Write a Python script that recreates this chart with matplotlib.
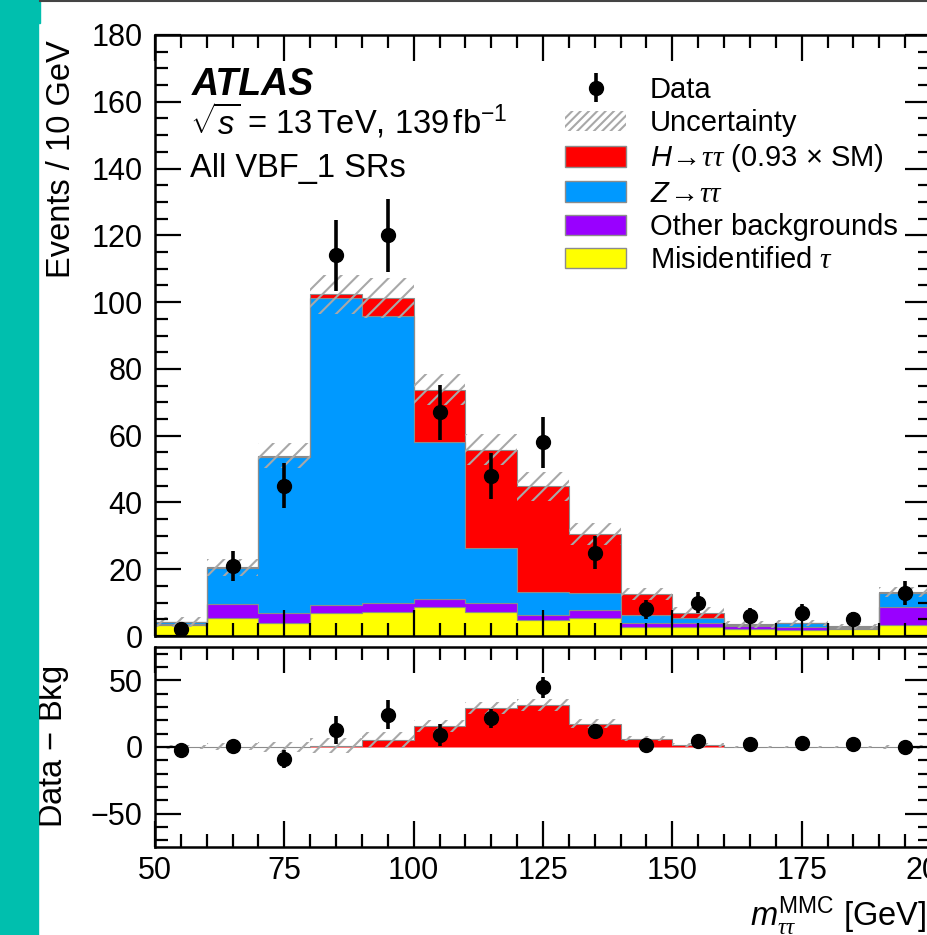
import numpy as np
import matplotlib.pyplot as plt
from matplotlib.patches import Patch, Rectangle
from matplotlib.lines import Line2D
from matplotlib.ticker import MultipleLocator

plt.rcParams.update({
    'font.family': 'Liberation Sans',
    'mathtext.fontset': 'custom',
    'mathtext.rm': 'Liberation Sans',
    'mathtext.it': 'Liberation Sans:italic',
    'mathtext.bf': 'Liberation Sans:bold',
    'mathtext.sf': 'Liberation Serif:italic',
    'hatch.linewidth': 1.5,
})

# m_tautau (MMC) binning, 10 GeV bins
bin_edges = [50, 60, 70, 80, 90, 100, 110, 120, 130, 140, 150, 160, 170, 180, 190, 200]
bin_centers = [55, 65, 75, 85, 95, 105, 115, 125, 135, 145, 155, 165, 175, 185, 195]

data = [2, 21, 45, 114, 120, 67, 48, 58, 25, 8, 10, 6, 7, 5, 13]
data_err = [1.4, 4.6, 6.7, 10.7, 11.0, 8.2, 6.9, 7.6, 5.0, 2.8, 3.2, 2.4, 2.6, 2.2, 3.6]

# stacked predictions, bottom to top
fake_tau = [3.3, 5.5, 4.0, 6.8, 7.3, 8.6, 7.3, 4.8, 5.3, 2.8, 2.8, 2.0, 1.8, 2.1, 3.3]
other_bkg = [0.2, 4.0, 2.8, 2.5, 2.7, 2.6, 2.7, 1.5, 2.5, 1.0, 1.2, 1.0, 1.0, 0.4, 5.5]
z_tautau = [0.7, 10.8, 46.9, 92.0, 85.8, 46.8, 16.5, 7.0, 5.1, 2.5, 1.5, 0.4, 1.0, 0.3, 4.0]
h_tautau = [0.0, 0.3, 0.3, 1.0, 5.5, 15.8, 29.3, 31.5, 17.6, 6.3, 1.5, 0.1, 0.1, 0.1, 0.3]
uncert = [1.5, 2.5, 3.7, 5.8, 6.0, 4.7, 4.7, 4.3, 3.2, 1.7, 1.7, 1.0, 1.0, 0.8, 1.5]

c_fake = '#ffff00'
c_other = '#9900ff'
c_z = '#0099ff'
c_h = '#ff0000'
c_edge = '#8c8c8c'
c_hatch = '#a8a8a8'

TAU = r'\mathsf{\tau}'

fig = plt.figure(figsize=(9.28, 9.35), dpi=100)
W, H = 928, 935
ax = fig.add_axes([155 / W, 1 - 636 / H, 776 / W, 601 / H])
rax = fig.add_axes([155 / W, 1 - 847 / H, 776 / W, 200 / H])

# side strip and top rule
fig.patches.append(Rectangle((0, 0), 38 / W, 1, transform=fig.transFigure,
                             color='#00bfae', zorder=0))
fig.patches.append(Rectangle((0, 1 - 23 / H), 40 / W, 23 / H, transform=fig.transFigure,
                             color='#00bfae', zorder=0))
fig.lines.append(Line2D([40 / W, 1], [1 - 1 / H, 1 - 1 / H], transform=fig.transFigure,
                        color='#444444', lw=1.5))

# ---- main panel: stacked histograms
bottom = np.zeros(len(data))
for vals, col in [(fake_tau, c_fake), (other_bkg, c_other), (z_tautau, c_z), (h_tautau, c_h)]:
    top = bottom + np.array(vals)
    ax.stairs(top, bin_edges, baseline=bottom, fill=True, facecolor=col,
              edgecolor=c_edge, linewidth=0.8)
    bottom = top
total = bottom
ax.stairs(total + np.array(uncert), bin_edges, baseline=total - np.array(uncert), fill=True,
          facecolor='none', edgecolor=c_hatch, hatch='//', linewidth=0)
ax.errorbar(bin_centers, data, yerr=data_err, fmt='o', color='k', markersize=10,
            elinewidth=2.6, capsize=0, zorder=5)

ax.set_xlim(50, 200)
ax.set_ylim(0, 180)
ax.yaxis.set_major_locator(MultipleLocator(20))
ax.yaxis.set_minor_locator(MultipleLocator(5))
ax.set_ylabel('Events / 10 GeV', fontsize=23.5, loc='top')
ax.yaxis.set_label_coords(-0.101, 0.992)

# ---- lower panel: data minus background
bkg = np.array(fake_tau) + np.array(other_bkg) + np.array(z_tautau)
sig = np.array(h_tautau)
rax.stairs(sig, bin_edges, baseline=0, fill=True, facecolor=c_h, edgecolor=c_edge, linewidth=0.8)
rax.stairs(sig + np.array(uncert), bin_edges, baseline=sig - np.array(uncert), fill=True,
           facecolor='none', edgecolor=c_hatch, hatch='//', linewidth=0)
rax.errorbar(bin_centers, np.array(data) - bkg, yerr=data_err, fmt='o', color='k',
             markersize=10, elinewidth=2.6, capsize=0, zorder=5)
rax.set_xlim(50, 200)
rax.set_ylim(-75, 75)
rax.yaxis.set_major_locator(MultipleLocator(50))
rax.yaxis.set_minor_locator(MultipleLocator(10))
rax.set_ylabel('Data $-$ Bkg', fontsize=23.5)
rax.yaxis.set_label_coords(-0.108, 0.5)
rax.set_xlabel(r'$m_{%s%s}^{\mathrm{MMC}}$ [GeV]' % (TAU, TAU), fontsize=23.5, loc='right')
rax.xaxis.set_label_coords(0.994, -0.235)

for a in (ax, rax):
    a.set_axisbelow(False)
    a.xaxis.set_major_locator(MultipleLocator(25))
    a.xaxis.set_minor_locator(MultipleLocator(5))
    a.tick_params(which='both', direction='in', top=True, right=True, width=1.6,
                  labelsize=22, pad=9)
    a.tick_params(which='major', length=19)
    a.tick_params(which='minor', length=9.5)
    a.tick_params(axis='x', pad=6.5)
    for s in a.spines.values():
        s.set_linewidth(1.8)
ax.tick_params(labelbottom=False)

# ---- labels
fig.text(192 / W, 1 - 95 / H, 'ATLAS', fontsize=27, fontweight='bold', fontstyle='italic',
         va='baseline')
fig.text(190 / W, 1 - 134 / H, r'$\sqrt{s}$ = 13$\,$TeV, 139$\,$fb$^{-1}$', fontsize=23.5,
         va='baseline')
fig.text(190 / W, 1 - 177 / H, 'All VBF_1 SRs', fontsize=23.5, va='baseline')

data_handle = ax.errorbar([], [], yerr=[], fmt='o', color='k', markersize=10,
                          elinewidth=2.6, capsize=0)
handles = [
    data_handle,
    Patch(facecolor='none', edgecolor=c_hatch, hatch='////', linewidth=0),
    Patch(facecolor=c_h, edgecolor=c_edge, linewidth=1),
    Patch(facecolor=c_z, edgecolor=c_edge, linewidth=1),
    Patch(facecolor=c_other, edgecolor=c_edge, linewidth=1),
    Patch(facecolor=c_fake, edgecolor=c_edge, linewidth=1),
]
labels = [
    'Data',
    'Uncertainty',
    r'$H\!\rightarrow\!%s%s$ (0.93 $\times$ SM)' % (TAU, TAU),
    r'$Z\!\rightarrow\!%s%s$' % (TAU, TAU),
    'Other backgrounds',
    r'Misidentified $%s$' % TAU,
]
ax.legend(handles, labels, loc='upper left', bbox_to_anchor=(565 / W, 1 - 76 / H),
          bbox_transform=fig.transFigure, frameon=False, fontsize=21,
          handlelength=2.1, handleheight=0.7, handletextpad=0.8, labelspacing=0.18,
          borderpad=0, borderaxespad=0)

fig.savefig('out.png', dpi=100)
